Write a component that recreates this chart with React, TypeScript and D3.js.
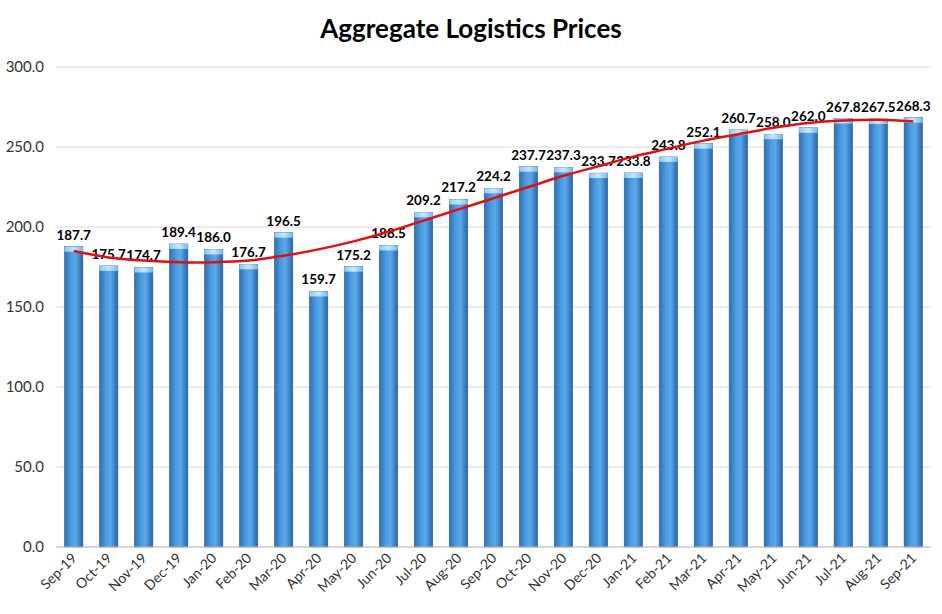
import React from "react";
import * as d3 from "d3";

const categories = ["Sep-19","Oct-19","Nov-19","Dec-19","Jan-20","Feb-20","Mar-20","Apr-20","May-20","Jun-20","Jul-20","Aug-20","Sep-20","Oct-20","Nov-20","Dec-20","Jan-21","Feb-21","Mar-21","Apr-21","May-21","Jun-21","Jul-21","Aug-21","Sep-21"];
const values = [187.7,175.7,174.7,189.4,186.0,176.7,196.5,159.7,175.2,188.5,209.2,217.2,224.2,237.7,237.3,233.7,233.8,243.8,252.1,260.7,258.0,262.0,267.8,267.5,268.3];
const trend = [185,181,179,178,178,179,182,186,191,197,204,211,218,225,232,238,244,249,254,258,262,265,266.5,267,266];
const yTicks = [0,50,100,150,200,250,300];

export default function App() {
  const W = 942, H = 614;
  const left = 56, right = 931, top = 67, bottom = 547;
  const x = d3.scaleBand().domain(categories).range([left, right]).paddingInner(0.47).paddingOuter(0.24);
  const y = d3.scaleLinear().domain([0, 300]).range([bottom, top]);
  const bw = x.bandwidth();
  const cx = (c: string) => (x(c) as number) + bw / 2;
  const line = d3.line<number>().x((_, i) => cx(categories[i])).y(d => y(d)).curve(d3.curveCatmullRom.alpha(0.5));
  const font = "Lato, 'Open Sans', sans-serif";
  return (
    <svg width={W} height={H} style={{ position: "absolute", left: 0, top: 0, background: "#fff" }} fontFamily={font}>
      <defs>
        <linearGradient id="bar" x1="0" x2="1" y1="0" y2="0">
          <stop offset="0" stopColor="#2f6fb0" />
          <stop offset="0.35" stopColor="#4a9be0" />
          <stop offset="0.6" stopColor="#5aa9ec" />
          <stop offset="1" stopColor="#2a64a3" />
        </linearGradient>
        <linearGradient id="cap" x1="0" x2="1">
          <stop offset="0" stopColor="#8cc8f5" />
          <stop offset="0.5" stopColor="#c9e8fc" />
          <stop offset="1" stopColor="#7ab8ea" />
        </linearGradient>
      </defs>
      <text x={471} y={38} textAnchor="middle" fontSize={26} fontWeight="bold" fill="#000">Aggregate Logistics Prices</text>
      {yTicks.map(t => (
        <g key={t}>
          <line x1={left} x2={right} y1={y(t)} y2={y(t)} stroke="#d9d9d9" strokeWidth={1} />
          <text x={left - 12} y={y(t) + 5} textAnchor="end" fontSize={15} fill="#333">{t.toFixed(1)}</text>
        </g>
      ))}
      {values.map((v, i) => {
        const c = categories[i];
        const x0 = x(c) as number;
        return (
          <g key={c}>
            <rect x={x0} y={y(v)} width={bw} height={bottom - y(v)} fill="url(#bar)" stroke="#2a5f96" strokeWidth={0.5} />
            <rect x={x0} y={y(v)} width={bw} height={5} fill="url(#cap)" />
            <text x={cx(c)} y={y(v) - 7} textAnchor="middle" fontSize={13.5} fontWeight="bold" fill="#000">{v.toFixed(1)}</text>
            <text transform={`translate(${cx(c) + 4},${bottom + 12}) rotate(-45)`} textAnchor="end" fontSize={14} fill="#333">{c}</text>
          </g>
        );
      })}
      <line x1={left} x2={right} y1={bottom} y2={bottom} stroke="#bfbfbf" />
      <path d={line(trend) || ""} fill="none" stroke="#e01010" strokeWidth={2.5} />
    </svg>
  );
}
